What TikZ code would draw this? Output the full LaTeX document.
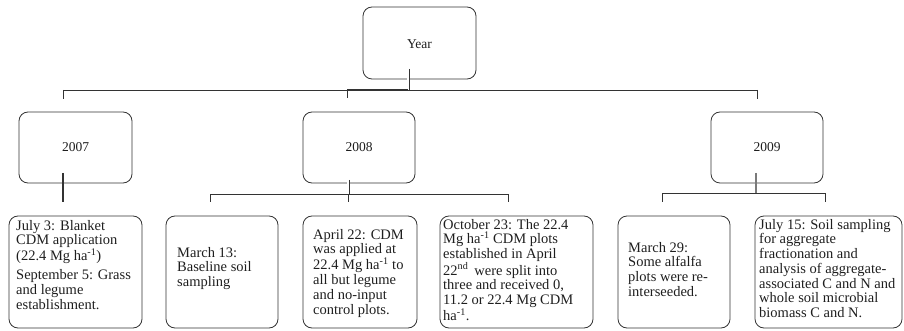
\documentclass[tikz,border=0pt]{standalone}
\usepackage{fontspec}
\setmainfont{Liberation Serif}
\definecolor{ink}{HTML}{1E1E1E}
\definecolor{edge}{HTML}{333333}
\definecolor{grayline}{HTML}{7A7A7A}
\begin{document}
\begin{tikzpicture}[x=1pt,y=-1pt,
  box/.style={draw=edge, line width=0.8pt, rounded corners=9pt},
  yeartxt/.style={font=\fontsize{13.5}{15}\selectfont, text=ink},
  evtxt/.style={font=\fontsize{14.5}{14.7}\selectfont, text=ink, align=left, inner sep=0pt, anchor=north west},
  wire/.style={draw=edge, line width=0.8pt},
  thick wire/.style={draw=edge, line width=1.6pt},
  dbl/.style={draw=edge, line width=0.7pt, double distance=1.6pt}]
\useasboundingbox (0,0) rectangle (904,331);

% year level boxes
\draw[box] (363,7) rectangle (476,79);
\node[yeartxt] (year) at (419.5,44) {Year};
\draw[box] (19,112) rectangle (132,183);
\node[yeartxt] (y7) at (75.5,147) {2007};
\draw[box] (303,112) rectangle (415,183);
\node[yeartxt] (y8) at (359,147) {2008};
\draw[box] (711,112) rectangle (823,183);
\node[yeartxt] (y9) at (767,147) {2009};

% junction coordinates
\coordinate (yr) at (408,69);
\coordinate (hj) at (408,90);
\coordinate (hl) at (63,90);
\coordinate (hr) at (757,90);
\coordinate (hm) at (347,90);
\coordinate (dl) at (63,99);
\coordinate (dm) at (347,98);
\coordinate (dr) at (757,99);

\draw[dbl] (yr) -- (hj);
\draw[wire] (hl) -- (hr);
\draw[thick wire] (hm) -- (hj);
\draw[wire] (hl) -- (dl);
\draw[wire] (hm) -- (dm);
\draw[wire] (hr) -- (dr);

% 2007 connector
\coordinate (a7) at (63,173);
\coordinate (b7) at (63,202);
\draw[thick wire] (a7) -- (b7);

% 2008 connectors
\coordinate (a8) at (348,180);
\coordinate (j8) at (348,194);
\coordinate (l8) at (210,194);
\coordinate (r8) at (508,194);
\coordinate (l8b) at (210,202);
\coordinate (m8b) at (348,202);
\coordinate (r8b) at (508,202);
\draw[dbl] (a8) -- (j8);
\draw[wire] (l8) -- (r8);
\draw[wire] (l8) -- (l8b);
\draw[wire] (j8) -- (m8b);
\draw[wire] (r8) -- (r8b);

% 2009 connectors
\coordinate (a9) at (756,173);
\coordinate (j9) at (756,193);
\coordinate (l9) at (662,193);
\coordinate (r9) at (825,193);
\coordinate (l9b) at (662,202);
\coordinate (r9b) at (825,202);
\draw[draw=grayline, line width=2.2pt] (a9) -- (j9);
\draw[wire] (l9) -- (r9);
\draw[wire] (l9) -- (l9b);
\draw[wire] (r9) -- (r9b);

% event boxes
\draw[box] (9,216) rectangle (142,328);
\draw[box] (166,216) rectangle (278,328);
\draw[box] (303,216) rectangle (417,328);
\draw[box] (440,216) rectangle (593,328);
\draw[box] (618,216) rectangle (730,328);
\draw[box] (755,216) rectangle (902,328);

\node[evtxt] (e1) at (16,220) {July 3: Blanket\\CDM application\\(22.4 Mg ha\textsuperscript{-1})\\[4pt]September 5: Grass\\and legume\\establishment.};
\node[evtxt] (e2) at (177,247) {March 13:\\Baseline soil\\sampling};
\node[evtxt] (e3) at (313,229) {April 22: CDM\\was applied at\\22.4 Mg ha\textsuperscript{-1} to\\all but legume\\and no-input\\control plots.};
\node[evtxt] (e4) at (443,219) {October 23: The 22.4\\Mg ha\textsuperscript{-1} CDM plots\\established in April\\22\textsuperscript{nd}\, were split into\\three and received 0,\\11.2 or 22.4 Mg CDM\\ha\textsuperscript{-1}.};
\node[evtxt] (e5) at (628,242) {March 29:\\Some alfalfa\\plots were re-\\interseeded.};
\node[evtxt] (e6) at (759,219) {July 15: Soil sampling\\for aggregate\\fractionation and\\analysis of aggregate-\\associated C and N and\\whole soil microbial\\biomass C and N.};
\end{tikzpicture}
\end{document}
